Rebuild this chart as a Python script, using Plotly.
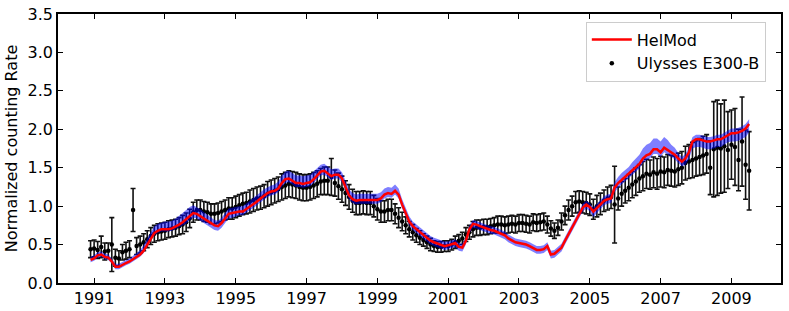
import plotly.graph_objects as go

# ---- data (sampled every 0.1 yr, 1990.9 ... 2009.5) ----
start_year = 1990.9
step_year = 0.1

ulysses_rate = [
    0.44,
    0.45, 0.43, 0.47, 0.41, 0.42, 0.50, 0.33, 0.32, 0.40, 0.42,  # 1991
    0.44, 0.95, 0.48, 0.50, 0.53, 0.57, 0.61, 0.64, 0.66, 0.67,  # 1992
    0.68, 0.70, 0.71, 0.72, 0.74, 0.76, 0.79, 0.84, 0.92, 0.95,  # 1993
    0.95, 0.93, 0.92, 0.90, 0.90, 0.91, 0.93, 0.95, 0.97, 0.97,  # 1994
    0.99, 1.01, 1.03, 1.04, 1.06, 1.08, 1.10, 1.11, 1.13, 1.16,  # 1995
    1.18, 1.20, 1.22, 1.25, 1.27, 1.29, 1.28, 1.27, 1.25, 1.24,  # 1996
    1.24, 1.25, 1.27, 1.29, 1.32, 1.33, 1.33, 1.38, 1.30, 1.26,  # 1997
    1.22, 1.17, 1.12, 1.07, 1.04, 1.04, 1.05, 1.04, 1.04, 1.00,  # 1998
    0.96, 0.93, 0.93, 0.95, 0.95, 0.90, 0.85, 0.80, 0.75, 0.70,  # 1999
    0.66, 0.62, 0.59, 0.56, 0.53, 0.50, 0.48, 0.47, 0.47, 0.48,  # 2000
    0.48, 0.50, 0.53, 0.55, 0.58, 0.63, 0.66, 0.70, 0.72, 0.72,  # 2001
    0.73, 0.73, 0.74, 0.75, 0.76, 0.76, 0.75, 0.76, 0.77, 0.76,  # 2002
    0.78, 0.78, 0.77, 0.76, 0.79, 0.78, 0.79, 0.80, 0.76, 0.71,  # 2003
    0.68, 0.72, 0.80, 0.88, 0.95, 1.00, 1.05, 1.06, 1.05, 1.04,  # 2004
    1.02, 0.96, 1.00, 1.03, 1.07, 1.10, 1.12, 1.02, 1.10, 1.16,  # 2005
    1.20, 1.24, 1.28, 1.32, 1.36, 1.39, 1.42, 1.41, 1.44, 1.42,  # 2006
    1.45, 1.44, 1.47, 1.46, 1.45, 1.48, 1.50, 1.56, 1.58, 1.60,  # 2007
    1.62, 1.64, 1.66, 1.68, 1.50, 1.74, 1.76, 1.75, 1.78, 1.73,  # 2008
    1.80, 1.77, 1.60, 1.84, 1.54, 1.46,                          # 2009
]

ulysses_err = [
    0.11,
    0.11, 0.11, 0.14, 0.11, 0.10, 0.35, 0.11, 0.10, 0.10, 0.11,  # 1991
    0.11, 0.28, 0.11, 0.11, 0.11, 0.11, 0.11, 0.11, 0.11, 0.11,  # 1992
    0.11, 0.11, 0.11, 0.11, 0.11, 0.12, 0.12, 0.12, 0.13, 0.13,  # 1993
    0.13, 0.13, 0.13, 0.13, 0.13, 0.13, 0.13, 0.13, 0.14, 0.14,  # 1994
    0.14, 0.14, 0.14, 0.14, 0.15, 0.15, 0.15, 0.15, 0.15, 0.16,  # 1995
    0.16, 0.16, 0.16, 0.17, 0.17, 0.17, 0.17, 0.17, 0.17, 0.17,  # 1996
    0.17, 0.17, 0.17, 0.17, 0.17, 0.18, 0.18, 0.24, 0.17, 0.17,  # 1997
    0.17, 0.16, 0.16, 0.15, 0.15, 0.15, 0.15, 0.15, 0.15, 0.14,  # 1998
    0.14, 0.14, 0.14, 0.14, 0.14, 0.13, 0.13, 0.12, 0.11, 0.10,  # 1999
    0.10, 0.09, 0.09, 0.08, 0.08, 0.08, 0.07, 0.07, 0.07, 0.07,  # 2000
    0.07, 0.07, 0.08, 0.08, 0.08, 0.09, 0.09, 0.10, 0.10, 0.10,  # 2001
    0.10, 0.10, 0.10, 0.10, 0.11, 0.11, 0.11, 0.11, 0.11, 0.11,  # 2002
    0.11, 0.11, 0.11, 0.11, 0.11, 0.11, 0.11, 0.11, 0.11, 0.10,  # 2003
    0.10, 0.10, 0.11, 0.12, 0.13, 0.13, 0.14, 0.14, 0.14, 0.14,  # 2004
    0.14, 0.13, 0.14, 0.14, 0.14, 0.15, 0.15, 0.50, 0.15, 0.16,  # 2005
    0.16, 0.17, 0.17, 0.18, 0.18, 0.19, 0.19, 0.19, 0.20, 0.20,  # 2006
    0.20, 0.20, 0.20, 0.20, 0.20, 0.21, 0.21, 0.22, 0.22, 0.23,  # 2007
    0.23, 0.24, 0.25, 0.25, 0.35, 0.62, 0.62, 0.58, 0.60, 0.50,  # 2008
    0.45, 0.50, 0.40, 0.58, 0.45, 0.51,                          # 2009
]

helmod_rate = [
    0.30,
    0.32, 0.36, 0.37, 0.34, 0.33, 0.28, 0.21, 0.21, 0.24, 0.26,  # 1991
    0.28, 0.31, 0.34, 0.37, 0.42, 0.50, 0.58, 0.65, 0.68, 0.70,  # 1992
    0.70, 0.70, 0.71, 0.73, 0.76, 0.79, 0.83, 0.88, 0.91, 0.90,  # 1993
    0.87, 0.84, 0.81, 0.78, 0.75, 0.74, 0.78, 0.84, 0.90, 0.91,  # 1994
    0.92, 0.93, 0.93, 0.96, 0.99, 1.03, 1.06, 1.10, 1.14, 1.17,  # 1995
    1.19, 1.20, 1.23, 1.30, 1.35, 1.36, 1.33, 1.30, 1.30, 1.29,  # 1996
    1.30, 1.31, 1.35, 1.40, 1.45, 1.46, 1.42, 1.39, 1.41, 1.41,  # 1997
    1.36, 1.25, 1.14, 1.09, 1.07, 1.08, 1.08, 1.08, 1.08, 1.08,  # 1998
    1.08, 1.10, 1.15, 1.17, 1.16, 1.20, 1.15, 1.02, 0.90, 0.80,  # 1999
    0.74, 0.70, 0.66, 0.62, 0.58, 0.55, 0.53, 0.51, 0.49, 0.48,  # 2000
    0.49, 0.51, 0.52, 0.47, 0.46, 0.55, 0.70, 0.77, 0.76, 0.74,  # 2001
    0.72, 0.70, 0.69, 0.68, 0.66, 0.64, 0.62, 0.58, 0.55, 0.53,  # 2002
    0.52, 0.51, 0.50, 0.48, 0.46, 0.43, 0.43, 0.44, 0.48, 0.37,  # 2003
    0.38, 0.42, 0.46, 0.55, 0.64, 0.72, 0.80, 0.90, 0.98, 1.02,  # 2004
    0.99, 0.93, 0.98, 1.03, 1.07, 1.09, 1.10, 1.24, 1.30, 1.34,  # 2005
    1.38, 1.42, 1.47, 1.51, 1.55, 1.62, 1.66, 1.68, 1.74, 1.74,  # 2006
    1.70, 1.76, 1.73, 1.69, 1.67, 1.62, 1.58, 1.62, 1.70, 1.84,  # 2007
    1.87, 1.87, 1.86, 1.84, 1.84, 1.85, 1.87, 1.87, 1.90, 1.93,  # 2008
    1.95, 1.95, 1.96, 1.98, 2.01, 2.07,                          # 2009
]

helmod_band_up = [
    0.04,
    0.04, 0.04, 0.04, 0.04, 0.04, 0.04, 0.04, 0.04, 0.04, 0.04,  # 1991
    0.04, 0.04, 0.05, 0.06, 0.07, 0.08, 0.09, 0.09, 0.09, 0.09,  # 1992
    0.10, 0.10, 0.10, 0.11, 0.11, 0.12, 0.12, 0.11, 0.10, 0.09,  # 1993
    0.09, 0.08, 0.08, 0.07, 0.07, 0.07, 0.07, 0.07, 0.07, 0.07,  # 1994
    0.07, 0.07, 0.07, 0.07, 0.08, 0.08, 0.08, 0.08, 0.08, 0.08,  # 1995
    0.08, 0.08, 0.09, 0.10, 0.10, 0.10, 0.10, 0.10, 0.10, 0.10,  # 1996
    0.10, 0.10, 0.10, 0.10, 0.09, 0.09, 0.09, 0.09, 0.08, 0.08,  # 1997
    0.08, 0.08, 0.08, 0.08, 0.08, 0.08, 0.08, 0.08, 0.08, 0.08,  # 1998
    0.08, 0.08, 0.08, 0.08, 0.08, 0.08, 0.08, 0.07, 0.07, 0.07,  # 1999
    0.06, 0.06, 0.06, 0.06, 0.06, 0.06, 0.06, 0.06, 0.06, 0.06,  # 2000
    0.05, 0.05, 0.05, 0.05, 0.05, 0.05, 0.05, 0.05, 0.05, 0.05,  # 2001
    0.05, 0.05, 0.05, 0.05, 0.05, 0.05, 0.05, 0.05, 0.05, 0.05,  # 2002
    0.05, 0.05, 0.05, 0.05, 0.05, 0.05, 0.05, 0.05, 0.05, 0.05,  # 2003
    0.05, 0.05, 0.05, 0.05, 0.05, 0.05, 0.05, 0.05, 0.05, 0.05,  # 2004
    0.05, 0.05, 0.05, 0.05, 0.06, 0.06, 0.06, 0.07, 0.08, 0.09,  # 2005
    0.09, 0.09, 0.10, 0.11, 0.12, 0.13, 0.14, 0.14, 0.14, 0.14,  # 2006
    0.14, 0.14, 0.13, 0.11, 0.09, 0.07, 0.06, 0.06, 0.06, 0.06,  # 2007
    0.06, 0.06, 0.06, 0.06, 0.06, 0.06, 0.06, 0.06, 0.06, 0.06,  # 2008
    0.06, 0.06, 0.06, 0.06, 0.06, 0.06,                          # 2009
]

helmod_band_down = [
    0.03,
    0.03, 0.03, 0.03, 0.03, 0.03, 0.03, 0.03, 0.03, 0.03, 0.03,  # 1991
    0.03, 0.03, 0.03, 0.03, 0.03, 0.03, 0.03, 0.03, 0.03, 0.03,  # 1992
    0.03, 0.03, 0.03, 0.03, 0.04, 0.05, 0.06, 0.06, 0.06, 0.06,  # 1993
    0.06, 0.06, 0.06, 0.06, 0.06, 0.06, 0.06, 0.06, 0.06, 0.06,  # 1994
    0.05, 0.05, 0.05, 0.05, 0.05, 0.05, 0.05, 0.05, 0.05, 0.05,  # 1995
    0.05, 0.05, 0.05, 0.05, 0.05, 0.05, 0.05, 0.05, 0.05, 0.05,  # 1996
    0.05, 0.05, 0.05, 0.05, 0.05, 0.05, 0.05, 0.05, 0.05, 0.05,  # 1997
    0.05, 0.05, 0.05, 0.05, 0.05, 0.05, 0.05, 0.05, 0.05, 0.05,  # 1998
    0.05, 0.05, 0.05, 0.05, 0.05, 0.05, 0.05, 0.05, 0.05, 0.05,  # 1999
    0.05, 0.05, 0.05, 0.05, 0.05, 0.05, 0.05, 0.05, 0.05, 0.05,  # 2000
    0.05, 0.05, 0.05, 0.05, 0.05, 0.05, 0.05, 0.05, 0.05, 0.05,  # 2001
    0.05, 0.05, 0.05, 0.05, 0.05, 0.05, 0.05, 0.05, 0.05, 0.05,  # 2002
    0.05, 0.05, 0.05, 0.05, 0.05, 0.05, 0.05, 0.05, 0.05, 0.05,  # 2003
    0.05, 0.05, 0.05, 0.05, 0.05, 0.05, 0.05, 0.05, 0.05, 0.05,  # 2004
    0.06, 0.07, 0.07, 0.06, 0.06, 0.06, 0.06, 0.06, 0.06, 0.06,  # 2005
    0.06, 0.06, 0.06, 0.06, 0.06, 0.06, 0.06, 0.06, 0.06, 0.06,  # 2006
    0.06, 0.06, 0.06, 0.06, 0.06, 0.06, 0.06, 0.08, 0.09, 0.09,  # 2007
    0.10, 0.10, 0.10, 0.10, 0.10, 0.10, 0.10, 0.10, 0.10, 0.10,  # 2008
    0.11, 0.11, 0.11, 0.11, 0.11, 0.11,                          # 2009
]

x_tick_values = [1991, 1993, 1995, 1997, 1999, 2001, 2003, 2005, 2007, 2009]
y_tick_values = [0.0, 0.5, 1.0, 1.5, 2.0, 2.5, 3.0, 3.5]

n = len(ulysses_rate)
assert len(ulysses_err) == n and len(helmod_rate) == n
assert len(helmod_band_up) == n and len(helmod_band_down) == n
years = [round(start_year + step_year * i, 2) for i in range(n)]

band_hi = [m + u for m, u in zip(helmod_rate, helmod_band_up)]
band_lo = [m - d for m, d in zip(helmod_rate, helmod_band_down)]

FONT = "DejaVu Sans"

fig = go.Figure()

# Ulysses data with error bars
fig.add_trace(go.Scatter(
    x=years, y=ulysses_rate, mode="markers", name="Ulysses E300-B",
    marker=dict(color="black", size=4.5),
    error_y=dict(type="data", array=ulysses_err, visible=True,
                 color="#111111", thickness=1.6, width=2.5),
    legendrank=2,
))

# HelMod uncertainty band
fig.add_trace(go.Scatter(
    x=years, y=band_lo, mode="lines", line=dict(width=0, color="rgba(0,0,255,0)"),
    showlegend=False, hoverinfo="skip",
))
fig.add_trace(go.Scatter(
    x=years, y=band_hi, mode="lines", line=dict(width=0, color="rgba(0,0,255,0)"),
    fill="tonexty", fillcolor="rgba(0,0,255,0.5)",
    showlegend=False, hoverinfo="skip",
))

# HelMod line
fig.add_trace(go.Scatter(
    x=years, y=helmod_rate, mode="lines", name="HelMod",
    line=dict(color="#ff0000", width=2.5),
    legendrank=1,
))

axis_common = dict(
    showline=True, linecolor="black", linewidth=1.5, mirror="allticks",
    ticks="inside", ticklen=5, tickwidth=1, tickcolor="black",
    showgrid=False, zeroline=False,
    tickfont=dict(family=FONT, size=16, color="black"),
)

fig.update_layout(
    width=789, height=311,
    margin=dict(l=58, r=8, t=14, b=28, autoexpand=False),
    paper_bgcolor="white", plot_bgcolor="white",
    font=dict(family=FONT, size=16, color="black"),
    xaxis=dict(range=[1989.98, 2010.4], tickvals=x_tick_values,
               ticktext=[str(v) for v in x_tick_values], **axis_common),
    yaxis=dict(range=[0, 3.5], tickvals=y_tick_values,
               ticktext=[f"{v:.1f}" for v in y_tick_values],
               title=dict(text="Normalized counting Rate",
                          font=dict(family=FONT, size=16), standoff=6),
               **axis_common),
    legend=dict(x=0.979, y=0.972, xanchor="right", yanchor="top",
                traceorder="normal", itemwidth=40,
                bgcolor="white", bordercolor="#cccccc", borderwidth=1,
                font=dict(family=FONT, size=16), tracegroupgap=0),
    showlegend=True,
)

fig.write_html(
    "out.html",
    config={"displayModeBar": False},
    post_script="document.body.style.margin='0px';document.body.style.overflow='hidden';",
)
